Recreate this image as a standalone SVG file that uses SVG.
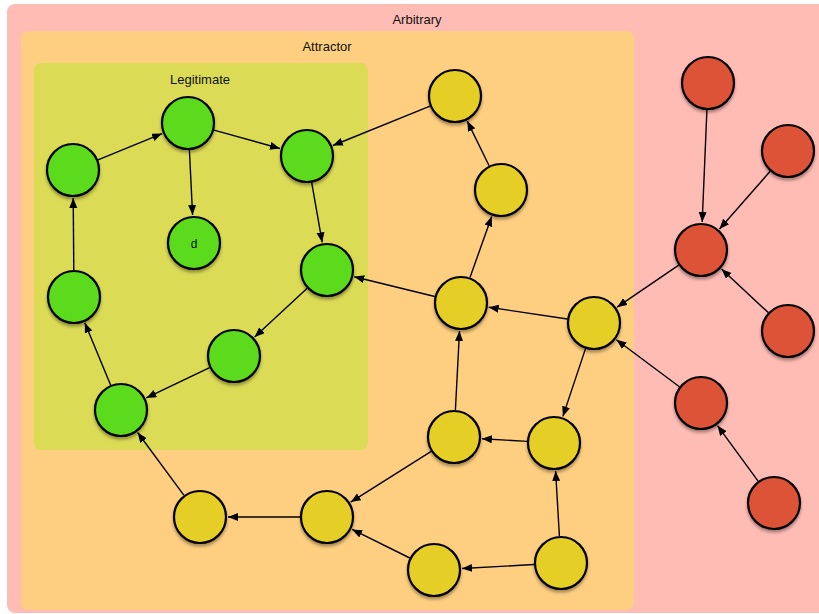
<svg xmlns="http://www.w3.org/2000/svg" width="819" height="614" viewBox="0 0 819 614">
<style>
.lbl{font-family:"Liberation Sans",Arial,sans-serif;font-size:13px;fill:#111;text-anchor:middle}
.n{stroke:#000;stroke-width:2.2;filter:url(#sh)}
.g{fill:#5CDA1F}.y{fill:#E5CE28}.r{fill:#DD5339}
#edges line{stroke:#000;stroke-width:1.4;marker-end:url(#ah)}
</style>
<defs>
<filter id="sh" x="-30%" y="-30%" width="160%" height="170%"><feDropShadow dx="0" dy="2.5" stdDeviation="1.8" flood-color="#000" flood-opacity="0.35"/></filter>
<marker id="ah" markerUnits="userSpaceOnUse" markerWidth="11" markerHeight="9" refX="10" refY="4" orient="auto"><path d="M0,0 L10,4 L0,8 z" fill="#000"/></marker>
</defs>
<rect width="819" height="614" fill="#fff"/>
<g id="arbitrary"><rect x="7" y="4" width="830" height="609" rx="8" fill="#FFBCB4"/><text class="lbl" x="417" y="24">Arbitrary</text></g>
<g id="attractor"><rect x="21" y="31" width="613" height="579" rx="7" fill="#FECF80"/><text class="lbl" x="327" y="51">Attractor</text></g>
<g id="legitimate"><rect x="34" y="63" width="334" height="387" rx="7" fill="#DBDB56"/><text class="lbl" x="200" y="84">Legitimate</text></g>
<g id="edges">
<line x1="98" y1="159.8" x2="162.1" y2="133.6"/>
<line x1="214" y1="130.2" x2="280" y2="148.5"/>
<line x1="189.4" y1="150" x2="192.6" y2="215"/>
<line x1="311.7" y1="182.6" x2="322.2" y2="242.4"/>
<line x1="307.2" y1="288.3" x2="254.6" y2="337"/>
<line x1="209.6" y1="367.6" x2="146.3" y2="397.9"/>
<line x1="110.6" y1="385.1" x2="84.8" y2="322.8"/>
<line x1="73.8" y1="270" x2="73.2" y2="198"/>
<line x1="430" y1="106.1" x2="332.9" y2="145.5"/>
<line x1="489.1" y1="165.7" x2="467.3" y2="121.1"/>
<line x1="470" y1="277.5" x2="491.7" y2="216.4"/>
<line x1="434.8" y1="296.5" x2="354.2" y2="276.7"/>
<line x1="567.3" y1="319" x2="488.7" y2="307.2"/>
<line x1="585.5" y1="348.6" x2="562.9" y2="416.4"/>
<line x1="455.4" y1="410" x2="459.5" y2="331"/>
<line x1="527.1" y1="441.4" x2="481.9" y2="438.7"/>
<line x1="431.2" y1="451.4" x2="350.7" y2="502.1"/>
<line x1="559.4" y1="536" x2="555.6" y2="471"/>
<line x1="534" y1="564.5" x2="462" y2="568.5"/>
<line x1="409.8" y1="558" x2="352.1" y2="529.4"/>
<line x1="300" y1="517" x2="228" y2="517"/>
<line x1="184" y1="495.3" x2="137.6" y2="432.5"/>
<line x1="706.9" y1="110" x2="702.2" y2="222"/>
<line x1="770.2" y1="171.3" x2="719.5" y2="229"/>
<line x1="768.2" y1="312.6" x2="721.5" y2="269.1"/>
<line x1="678.7" y1="265.2" x2="617.1" y2="307.2"/>
<line x1="679.4" y1="386.8" x2="616.4" y2="339.8"/>
<line x1="758.1" y1="481.2" x2="717.5" y2="425.6"/>
</g>
<g id="g1"><circle class="n g" cx="73" cy="170" r="26"/></g>
<g id="g2"><circle class="n g" cx="188" cy="123" r="26"/></g>
<g id="g3"><circle class="n g" cx="307" cy="156" r="26"/></g>
<g id="d"><circle class="n g" cx="194" cy="243" r="26"/><text class="lbl" x="194" y="247.5" style="font-size:12px">d</text></g>
<g id="g5"><circle class="n g" cx="327" cy="270" r="26"/></g>
<g id="g6"><circle class="n g" cx="74" cy="297" r="26"/></g>
<g id="g7"><circle class="n g" cx="234" cy="356" r="26"/></g>
<g id="g8"><circle class="n g" cx="121" cy="410" r="26"/></g>
<g id="y1"><circle class="n y" cx="455" cy="96" r="26"/></g>
<g id="y2"><circle class="n y" cx="501" cy="190" r="26"/></g>
<g id="y3"><circle class="n y" cx="461" cy="303" r="26"/></g>
<g id="y4"><circle class="n y" cx="594" cy="323" r="26"/></g>
<g id="y5"><circle class="n y" cx="454" cy="437" r="26"/></g>
<g id="y6"><circle class="n y" cx="554" cy="443" r="26"/></g>
<g id="y7"><circle class="n y" cx="561" cy="563" r="26"/></g>
<g id="y8"><circle class="n y" cx="434" cy="570" r="26"/></g>
<g id="y9"><circle class="n y" cx="327" cy="517" r="26"/></g>
<g id="y10"><circle class="n y" cx="200" cy="517" r="26"/></g>
<g id="r1"><circle class="n r" cx="708" cy="83" r="26"/></g>
<g id="r2"><circle class="n r" cx="788" cy="151" r="26"/></g>
<g id="r3"><circle class="n r" cx="701" cy="250" r="26"/></g>
<g id="r4"><circle class="n r" cx="788" cy="331" r="26"/></g>
<g id="r5"><circle class="n r" cx="701" cy="403" r="26"/></g>
<g id="r6"><circle class="n r" cx="774" cy="503" r="26"/></g>
</svg>
